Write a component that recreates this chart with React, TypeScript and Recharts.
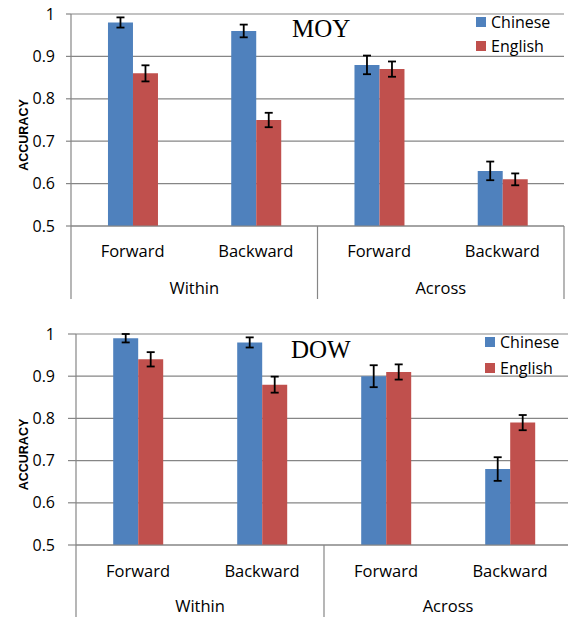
import React from 'react';
import { BarChart, Bar, XAxis, YAxis, CartesianGrid, ErrorBar, Legend } from 'recharts';

// ---- data ----
const categories = ['Forward', 'Backward', 'Forward', 'Backward'];
const groups = ['Within', 'Within', 'Across', 'Across'];
const yTicks = [0.5, 0.6, 0.7, 0.8, 0.9, 1];
const seriesNames = ['Chinese', 'English'];

const moyChinese = [0.98, 0.96, 0.88, 0.63];
const moyEnglish = [0.86, 0.75, 0.87, 0.61];
const moyChineseErr = [0.012, 0.015, 0.022, 0.022];
const moyEnglishErr = [0.019, 0.017, 0.018, 0.014];

const dowChinese = [0.99, 0.98, 0.9, 0.68];
const dowEnglish = [0.94, 0.88, 0.91, 0.79];
const dowChineseErr = [0.01, 0.012, 0.026, 0.028];
const dowEnglishErr = [0.017, 0.019, 0.018, 0.018];

const BLUE = '#4F81BD';
const RED = '#C0504D';
const GRID = '#868686';
const TEXT = '#000';
const FONT = '"Open Sans", sans-serif';
const CAT_FS = 16.5;
const Y_FS = 16;
const LEG_FS = 16;

function buildData(ch: number[], en: number[], chErr: number[], enErr: number[]) {
  return categories.map((c, i) => ({
    key: `${groups[i]}-${c}-${i}`,
    chinese: ch[i],
    english: en[i],
    chineseErr: chErr[i],
    englishErr: enErr[i],
  }));
}

const moyData = buildData(moyChinese, moyEnglish, moyChineseErr, moyEnglishErr);
const dowData = buildData(dowChinese, dowEnglish, dowChineseErr, dowEnglishErr);

const makeTick = (band: number, lineLen: number, catDy: number, groupDy: number) => (props: any) => {
  const { x, y, index } = props;
  const i = index as number;
  const els: React.ReactNode[] = [];
  els.push(
    <text key="c" x={x} y={y + catDy} textAnchor="middle" dominantBaseline="central" fill={TEXT} fontSize={CAT_FS} fontFamily={FONT}>
      {categories[i]}
    </text>
  );
  const isStart = i === 0 || groups[i] !== groups[i - 1];
  const isEnd = i === categories.length - 1 || groups[i] !== groups[i + 1];
  if (isStart) {
    els.push(<line key="ls" x1={x - band / 2} x2={x - band / 2} y1={y} y2={y + lineLen} stroke={GRID} strokeWidth={1.2} />);
  }
  if (i === categories.length - 1) {
    els.push(<line key="le" x1={x + band / 2} x2={x + band / 2} y1={y} y2={y + lineLen} stroke={GRID} strokeWidth={1.2} />);
  }
  if (isEnd) {
    let count = 1;
    while (i - count >= 0 && groups[i - count] === groups[i]) count++;
    const gx = x - ((count - 1) * band) / 2;
    els.push(
      <text key="g" x={gx} y={y + groupDy} textAnchor="middle" dominantBaseline="central" fill={TEXT} fontSize={CAT_FS} fontFamily={FONT}>
        {groups[i]}
      </text>
    );
  }
  return <g>{els}</g>;
};

const makeLegend = (rowH: number) => (props: any) => {
  const payload = props.payload || [];
  const items = seriesNames.map((n, i) => {
    const p = payload.find((q: any) => q.value === n);
    return { name: n, color: p ? p.color : i === 0 ? BLUE : RED };
  });
  return (
    <div style={{ fontFamily: FONT }}>
      {items.map((it) => (
        <div key={it.name} style={{ display: 'flex', alignItems: 'center', height: rowH }}>
          <span style={{ display: 'inline-block', width: 10, height: 10, background: it.color, marginRight: 5 }} />
          <span style={{ fontSize: LEG_FS, color: TEXT, lineHeight: '16px' }}>{it.name}</span>
        </div>
      ))}
    </div>
  );
};

type PanelProps = {
  title: string;
  data: any[];
  width: number;
  height: number;
  top: number;
  yAxisWidth: number;
  xAxisHeight: number;
  marginTop: number;
  marginRight: number;
  yTickSize: number;
  yTickMargin: number;
  catDy: number;
  groupDy: number;
  lineLen: number;
  titleX: number;
  titleY: number;
  legendLeft: number;
  legendTop: number;
  legendRowH: number;
  accOffset: number;
};

function Panel(p: PanelProps) {
  const plotW = p.width - p.yAxisWidth - p.marginRight;
  const band = plotW / categories.length;
  const plotH = p.height - p.marginTop - p.xAxisHeight;
  const accY = p.marginTop + plotH / 2 + p.accOffset;
  return (
    <div style={{ position: 'absolute', left: 0, top: p.top, width: 568, height: p.height, overflow: 'hidden' }}>
      <BarChart
        width={p.width}
        height={p.height}
        data={p.data}
        margin={{ top: p.marginTop, right: p.marginRight, left: 0, bottom: 0 }}
        barCategoryGap="30%"
        barGap={0}
        style={{ fontFamily: FONT }}
      >
        <CartesianGrid vertical={false} stroke={GRID} strokeWidth={1.2} />
        <XAxis
          dataKey="key"
          height={p.xAxisHeight}
          interval={0}
          tickLine={false}
          tickSize={0}
          tickMargin={0}
          axisLine={{ stroke: GRID, strokeWidth: 1.2 }}
          tick={makeTick(band, p.lineLen, p.catDy, p.groupDy)}
        />
        <YAxis
          width={p.yAxisWidth}
          domain={[0.5, 1]}
          ticks={yTicks}
          allowDataOverflow
          tickSize={p.yTickSize}
          tickMargin={p.yTickMargin}
          tickLine={{ stroke: GRID, strokeWidth: 1.2 }}
          axisLine={{ stroke: GRID, strokeWidth: 1.2 }}
          tick={{ fill: TEXT, fontSize: Y_FS, fontFamily: FONT }}
          tickFormatter={(v: number) => (v === 1 ? '1' : v.toFixed(1))}
        />
        <Legend
          layout="vertical"
          align="center"
          verticalAlign="middle"
          wrapperStyle={{ left: p.legendLeft, top: p.legendTop, width: 'auto' }}
          content={makeLegend(p.legendRowH)}
        />
        <Bar dataKey="chinese" name={seriesNames[0]} fill={BLUE} isAnimationActive={false}>
          <ErrorBar dataKey="chineseErr" width={4} stroke="#000" strokeWidth={1.8} direction="y" isAnimationActive={false} />
        </Bar>
        <Bar dataKey="english" name={seriesNames[1]} fill={RED} isAnimationActive={false}>
          <ErrorBar dataKey="englishErr" width={4} stroke="#000" strokeWidth={1.8} direction="y" isAnimationActive={false} />
        </Bar>
        <text x={p.titleX} y={p.titleY} fontFamily='"Liberation Serif", "Times New Roman", serif' fontSize={25} fill="#000">
          {p.title}
        </text>
        <text
          x={24}
          y={accY}
          transform={`rotate(-90 24 ${accY})`}
          textAnchor="middle"
          dominantBaseline="central"
          fontFamily='"Liberation Sans", Arial, sans-serif'
          fontWeight="bold"
          fontSize={12.5}
          fill="#000"
        >
          ACCURACY
        </text>
      </BarChart>
    </div>
  );
}

export default function App() {
  return (
    <div style={{ position: 'absolute', left: 0, top: 0, width: 568, height: 617, background: '#fff', overflow: 'hidden' }}>
      <Panel
        title="MOY"
        data={moyData}
        width={568}
        height={300}
        top={0}
        yAxisWidth={71}
        xAxisHeight={74}
        marginTop={14}
        marginRight={4}
        yTickSize={5}
        yTickMargin={11}
        catDy={24}
        groupDy={61}
        lineLen={73}
        titleX={292}
        titleY={37}
        legendLeft={476}
        legendTop={9.5}
        legendRowH={24}
        accOffset={15}
      />
      <Panel
        title="DOW"
        data={dowData}
        width={576}
        height={307}
        top={310}
        yAxisWidth={76}
        xAxisHeight={72}
        marginTop={24}
        marginRight={4}
        yTickSize={8}
        yTickMargin={13}
        catDy={25}
        groupDy={60}
        lineLen={75}
        titleX={291}
        titleY={48}
        legendLeft={485}
        legendTop={18.5}
        legendRowH={26}
        accOffset={15}
      />
    </div>
  );
}
